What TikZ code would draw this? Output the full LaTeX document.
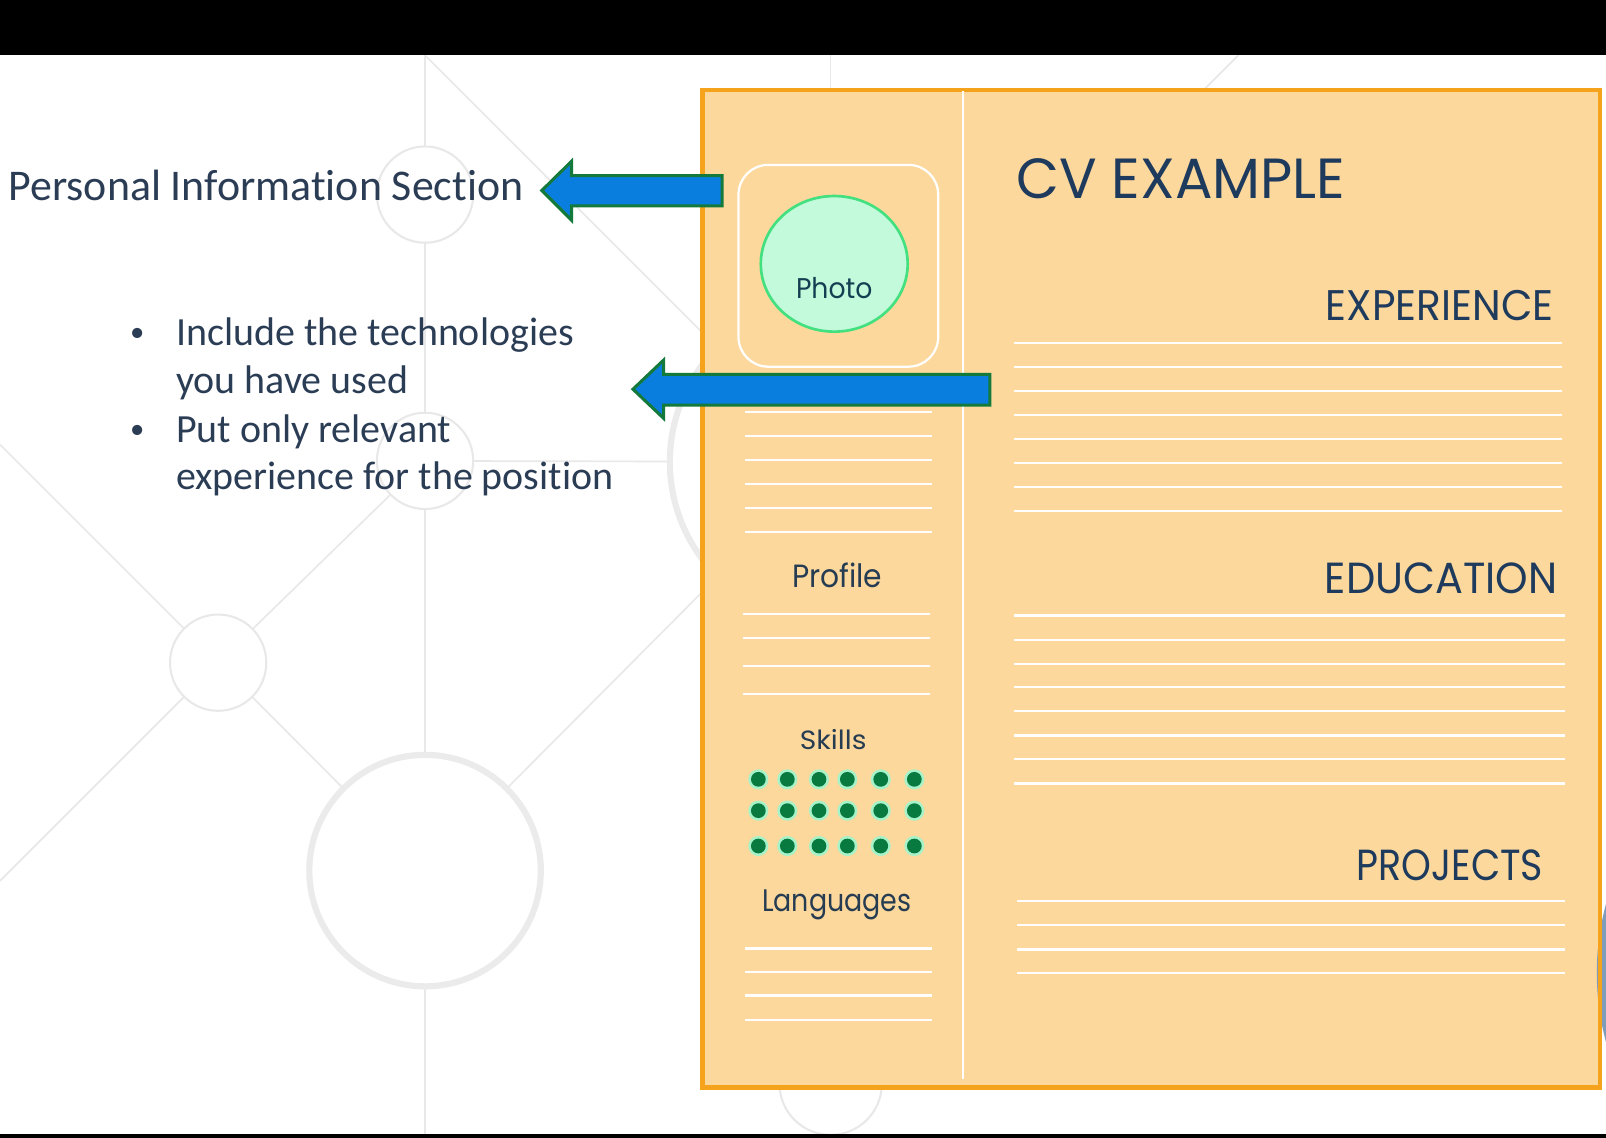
\documentclass[tikz,border=0pt]{standalone}
\usepackage{fontspec}
\usepackage{graphicx}
\setmainfont{Carlito}[Ligatures=NoCommon]
\newfontfamily\cvfont{Poppins}

\definecolor{netgray}{HTML}{E8E8E8}
\definecolor{ringgray}{HTML}{EBEBEB}
\definecolor{slatetext}{HTML}{2B3D55}
\definecolor{cvnavy}{HTML}{1E3A5C}
\definecolor{sidenavy}{HTML}{263C52}
\definecolor{phototext}{HTML}{143F52}
\definecolor{paperfill}{HTML}{FCD89C}
\definecolor{paperedge}{HTML}{F5A31D}
\definecolor{mintfill}{HTML}{C2FADB}
\definecolor{mintedge}{HTML}{43E07F}
\definecolor{arrowblue}{HTML}{0A7EDF}
\definecolor{arrowedge}{HTML}{137A3C}
\definecolor{dotgreen}{HTML}{08793F}
\definecolor{dothalo}{HTML}{A6F2C9}
\definecolor{edgeblue}{HTML}{7F9DB9}

% scaled heading text: width, height, words
\newcommand{\cvtext}[3]{\resizebox{#1}{#2}{\cvfont #3}}

\tikzset{
  netline/.style={draw=netgray, line width=0.8pt},
  smallring/.style={draw=netgray, line width=1pt, fill=white},
  bigring/.style={draw=ringgray, line width=3pt, fill=white},
  lefttext/.style={inner sep=0pt, text=slatetext, font=\fontsize{21.4}{25}\selectfont},
  bullettext/.style={inner sep=0pt, text=slatetext, font=\fontsize{19.5}{23.5}\selectfont},
  bulletmark/.style={inner sep=0pt, text=slatetext, font=\fontsize{14}{16}\selectfont},
  cvhead/.style={inner sep=0pt, text=cvnavy},
  sidehead/.style={inner sep=0pt, text=sidenavy},
  ruled/.style={draw=white, line width=1.1pt},
  blockarrow/.style={fill=arrowblue, draw=arrowedge, line width=1.5pt, line join=miter},
}

\begin{document}
\begin{tikzpicture}[x=0.5pt, y=-0.5pt]
\useasboundingbox (0,0) rectangle (1568,1111);
\fill[white] (0,0) rectangle (1568,1111);

% ---------- faint background network ----------
\draw[netline] (415,54) -- (415,1107);
\draw[netline] (415,54) -- (812,451);
\draw[netline] (415,450) -- (812,451);
\draw[netline] (415,850) -- (812,451);
\draw[netline] (812,451) -- (1209,54);
\draw[netline] (811,54) -- (811,1058);
\draw[netline] (0,434) -- (213,647) -- (0,860);
\draw[netline] (415,450) -- (213,647) -- (415,850);

\path[smallring] (415,190) circle (47);
\path[smallring] (415,450) circle (47);
\path[smallring] (213,647) circle (47);
\path[bigring]   (415,850) circle (113);
\path[bigring]   (812,451) circle (158);
\path[smallring] (811,1058) circle (50);

% ---------- slide frame bars ----------
\fill[black] (0,0) rectangle (1568,54);
\fill[black] (0,1107) rectangle (1568,1111);

% ---------- explanatory text ----------
\node[lefttext, anchor=base west] (pinfo) at (8,196) {Personal Information Section};
\node[bulletmark, anchor=base] (bula) at (134,333) {\textbullet};
\node[bullettext, anchor=base west] (la) at (171.5,337) {Include the technologies};
\node[bullettext, anchor=base west] (lb) at (171.5,384) {you have used};
\node[bulletmark, anchor=base] (bulb) at (134,428) {\textbullet};
\node[bullettext, anchor=base west] (lc) at (171.5,432) {Put only relevant};
\node[bullettext, anchor=base west] (ld) at (171.5,478) {experience for the position};

% ---------- the CV sheet ----------
\fill[paperfill] (686,88) rectangle (1562,1062);
\fill[edgeblue] (1814,950) circle (255);
\draw[paperedge, line width=2.2pt] (686,88) rectangle (1562,1062);
\draw[white, line width=0.8pt] (940,89) -- (940,1053);

% photo area
\draw[white, line width=1.1pt, rounded corners=14.5pt] (721,161) rectangle (916,358);
\filldraw[fill=mintfill, draw=mintedge, line width=1.3pt] (814.5,257.6) ellipse (71.7 and 66.2);
\node[sidehead, text=phototext, anchor=base] (photo) at (814.5,291) {\cvtext{37.3pt}{10.3pt}{Photo}};

% left column rules
\foreach \yy in {402.3,425.7,449.1,472.6,496,519.4}
  \draw[ruled] (727,\yy) -- (910,\yy);
\node[sidehead, anchor=base] (profile) at (817.5,573.5) {\cvtext{44pt}{12pt}{Profile}};
\foreach \yy in {599.2,622.6,650,677.3}
  \draw[ruled] (725,\yy) -- (908,\yy);
\node[sidehead, anchor=base] (skills) at (813.5,731.6) {\cvtext{32.5pt}{9.8pt}{Skills}};
\foreach \yy in {760.9,791.5,826}
  \foreach \xx in {740.4,768.7,799.6,827.3,859.9,892.7} {
    \fill[dothalo] (\xx,\yy) circle (9.8);
    \fill[dotgreen] (\xx,\yy) circle (7.2);
  }
\node[sidehead, anchor=base] (langs) at (817,890) {\cvtext{72.9pt}{10.6pt}{Languages}};
\foreach \yy in {926,949,972,996}
  \draw[ruled] (727,\yy) -- (910,\yy);

% right column
\node[cvhead, anchor=base west] (title) at (992,194) {\cvtext{160.5pt}{19.5pt}{CV EXAMPLE}};
\node[cvhead, anchor=base east] (exper) at (1517,312.5) {\cvtext{111pt}{14.75pt}{EXPERIENCE}};
\foreach \yy in {335.2,358.6,382,405.5,428.9,452.4,475.8,499}
  \draw[ruled] (990,\yy) -- (1525,\yy);
\node[cvhead, anchor=base east] (educ) at (1521,579) {\cvtext{113.5pt}{15pt}{EDUCATION}};
\foreach \yy in {601,624.5,648,671,694.5,718,741,765}
  \draw[ruled] (990,\yy) -- (1528,\yy);
\node[cvhead, anchor=base east] (proj) at (1507,860) {\cvtext{91pt}{15pt}{PROJECTS}};
\foreach \yy in {880,903,927,950}
  \draw[ruled] (993,\yy) -- (1528,\yy);

% ---------- pointer arrows ----------
\filldraw[blockarrow] (529,186) -- (558,157.5) -- (558,171.5) -- (705,171.5)
  -- (705,201) -- (558,201) -- (558,215) -- cycle;
\filldraw[blockarrow] (618,380) -- (648,351.5) -- (648,365.5) -- (966.5,365.5)
  -- (966.5,395.5) -- (648,395.5) -- (648,408.5) -- cycle;
\end{tikzpicture}
\end{document}
